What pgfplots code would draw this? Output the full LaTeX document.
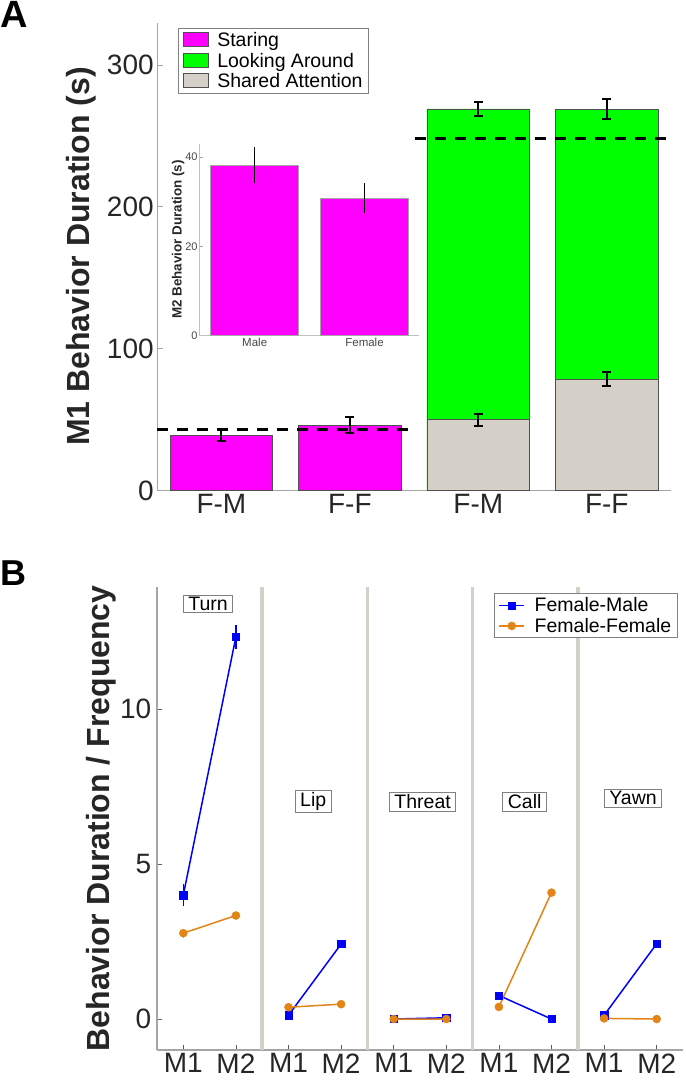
\documentclass[border=0pt]{standalone}
\usepackage{pgfplots}
\pgfplotsset{compat=1.18}
\usepackage{fontspec}
\setmainfont{Liberation Sans}
\definecolor{mag}{RGB}{255,0,255}
\definecolor{grn}{RGB}{0,255,0}
\definecolor{shg}{RGB}{212,208,200}
\definecolor{edge}{RGB}{80,80,80}
\definecolor{axgray}{RGB}{165,165,165}
\definecolor{txt}{RGB}{38,38,38}
\definecolor{bblue}{RGB}{0,0,250}
\definecolor{orng}{RGB}{226,132,22}
\newcommand{\fs}[1]{\fontsize{#1}{#1}\selectfont}
\begin{document}
\begin{tikzpicture}
\useasboundingbox (0pt,0pt) rectangle (685pt,-1081pt);
\node[anchor=north west, inner sep=0pt, font=\fs{38}\bfseries] at (0pt,-1pt) {A};
\node[anchor=north west, inner sep=0pt, font=\fs{36}\bfseries] at (0pt,-561pt) {B};

% ---------------- Panel A main axis ----------------
\begin{axis}[
  at={(157.2pt,-490.7pt)}, anchor=south west,
  scale only axis, width=513.8pt, height=468.2pt,
  xmin=0.5, xmax=4.5, ymin=0, ymax=330,
  axis x line=bottom, axis y line=left,
  axis line style={draw=axgray, line width=1.3pt, -},
  ybar, bar width=0.8, bar shift=0pt,
  legend image code/.code={\draw[#1] (0pt,-6.5pt) rectangle (25pt,7.5pt); \path[draw=none,fill=none] (0pt,0pt) -- (32pt,0pt);},
  ytick={0,100,200,300}, xtick={1,2,3,4},
  xticklabels={F-M,F-F,F-M,F-F},
  tick align=inside, major tick length=6pt,
  ytick style={draw=axgray, line width=1pt},
  xtick style={draw=none},
  ticklabel style={font=\fs{28}, text=txt},
  /pgf/number format/assume math mode=true,
  ylabel={M1 Behavior Duration (s)},
  ylabel style={font=\fs{32}\bfseries, text=txt, at={(axis description cs:-0.1308,0.5)}, anchor=base},
  legend style={at={(0.0405,0.989)}, anchor=north west, draw=gray, line width=1pt,
    font=\fs{19.5}, text=black, inner xsep=4pt, inner ysep=2pt,
    nodes={inner sep=2.4pt}, cells={anchor=west}},
  error bars/error bar style={line width=2pt, black},
  error bars/error mark options={rotate=90, line width=2pt, mark size=4.5pt, black},
]
\addplot[fill=mag, draw=edge, line width=0.8pt, bar shift=0pt,
  error bars/.cd, y dir=both, y explicit]
  coordinates {(1,39.0) +- (0,4.3) (2,46.3) +- (0,5.5)};
\addlegendentry{Staring}
\addplot[fill=grn, draw=edge, line width=0.8pt, bar shift=0pt,
  error bars/.cd, y dir=both, y explicit]
  coordinates {(3,269.1) +- (0,5.0) (4,268.8) +- (0,7.0)};
\addlegendentry{Looking Around}
\addplot[fill=shg, draw=edge, line width=0.8pt, bar shift=0pt,
  error bars/.cd, y dir=both, y explicit]
  coordinates {(3,50.0) +- (0,4.4) (4,78.7) +- (0,5.1)};
\addlegendentry{Shared Attention}
\addplot[sharp plot, forget plot, black, line width=2.6pt, dash pattern=on 11pt off 9pt]
  coordinates {(0.5,43.1) (2.46,43.1)};
\addplot[sharp plot, forget plot, black, line width=2.6pt, dash pattern=on 11pt off 9pt]
  coordinates {(2.51,248.4) (4.5,248.4)};
\end{axis}

% ---------------- Panel A inset ----------------
\begin{axis}[
  at={(199.8pt,-335.6pt)}, anchor=south west,
  scale only axis, width=219.6pt, height=192pt,
  xmin=0.5, xmax=2.5, ymin=0, ymax=43,
  axis x line=bottom, axis y line=left,
  axis line style={draw=axgray!70, line width=0.8pt, -},
  ybar, bar width=0.8, bar shift=0pt,
  xtick={1,2}, xticklabels={Male,Female}, ytick={0,20,40},
  tick align=inside, major tick length=3pt,
  ytick style={draw=axgray, line width=0.6pt},
  xtick style={draw=none},
  ticklabel style={font=\fs{11}, text=txt!85},
  xticklabel style={font=\fs{11.5}, inner sep=2pt},
  yticklabel style={inner sep=2pt},
  /pgf/number format/assume math mode=true,
  ylabel={M2 Behavior Duration (s)},
  ylabel style={font=\fs{13.4}\bfseries, text=txt, at={(axis description cs:-0.0824,0.5)}, anchor=base},
]
\addplot[fill=mag, draw=axgray, line width=0.6pt, bar shift=0pt,
  error bars/.cd, y dir=both, y explicit,
  error bar style={line width=0.9pt, black}, error mark=none]
  coordinates {(1,38.2) +- (0,4.0) (2,30.8) +- (0,3.35)};
\end{axis}

% ---------------- Panel B ----------------
\begin{axis}[
  at={(157pt,-1050pt)}, anchor=south west,
  scale only axis, width=526pt, height=463.3pt,
  xmin=0.5, xmax=10.5, ymin=-1, ymax=13.95,
  axis x line=bottom, axis y line=left,
  axis line style={draw=axgray, line width=1.3pt, -},
  xtick={1,2,3,4,5,6,7,8,9,10},
  xticklabels={M1,M2,M1,M2,M1,M2,M1,M2,M1,M2},
  ytick={0,5,10},
  tick align=inside, major tick length=5pt,
  tick style={draw=txt!75, line width=0.8pt},
  extra x ticks={2.5,4.5,6.5,8.5}, extra x tick labels={},
  extra x tick style={grid=major, major tick length=0pt,
     major grid style={draw=shg, line width=3.5pt}},
  ticklabel style={font=\fs{28}, text=txt},
  yticklabel style={inner xsep=5.5pt},
  /pgf/number format/assume math mode=true,
  ylabel={Behavior Duration / Frequency},
  ylabel style={font=\fs{32}\bfseries, text=txt, at={(axis description cs:-0.0903,0.5)}, anchor=base},
  unbounded coords=jump,
  legend image code/.code={\draw[mark repeat=2, mark phase=2, #1] plot coordinates {(0pt,0pt) (12.5pt,0pt) (25pt,0pt)}; \path[draw=none,fill=none] (0pt,0pt) -- (33pt,0pt);},
  legend style={at={(0.6407,0.9858)}, anchor=north west, draw=gray, line width=1pt,
    font=\fs{19.5}, text=black, inner xsep=4pt, inner ysep=1.5pt,
    nodes={inner sep=2.4pt}, cells={anchor=west}},
]
\addplot[bblue, line width=1.5pt, mark=square*, mark size=3.7pt,
  mark options={fill=bblue, draw=bblue, line width=0.5pt},
  error bars/.cd, y dir=both, y explicit,
  error bar style={line width=1.5pt, bblue}, error mark=none]
  coordinates {
  (1,4.0) +- (0,0.35) (2,12.33) +- (0,0.4) (2.5,nan)
  (3,0.12) +- (0,0) (4,2.42) +- (0,0) (4.5,nan)
  (5,0.0) +- (0,0) (6,0.04) +- (0,0) (6.5,nan)
  (7,0.76) +- (0,0) (8,0.0) +- (0,0) (8.5,nan)
  (9,0.12) +- (0,0) (10,2.43) +- (0,0)};
\addlegendentry{Female-Male}
\addplot[orng, line width=1.5pt, mark=*, mark size=4pt,
  mark options={fill=orng, draw=orng, line width=0.5pt},
  error bars/.cd, y dir=both, y explicit,
  error bar style={line width=1.5pt, orng}, error mark=none]
  coordinates {
  (1,2.77) +- (0,0.15) (2,3.34) +- (0,0.1) (2.5,nan)
  (3,0.38) +- (0,0) (4,0.48) +- (0,0) (4.5,nan)
  (5,0.0) +- (0,0) (6,0.0) +- (0,0) (6.5,nan)
  (7,0.39) +- (0,0) (8,4.08) +- (0,0.1) (8.5,nan)
  (9,0.02) +- (0,0) (10,0.0) +- (0,0)};
\addlegendentry{Female-Female}
\tikzset{bx/.style={draw=gray, fill=white, line width=0.8pt, font=\fs{19.5}, text=black, inner xsep=5pt, inner ysep=2pt}}
\node[bx] at (axis cs:1.47,13.4) {Turn};
\node[bx] at (axis cs:3.47,7.01) {Lip};
\node[bx] at (axis cs:5.55,7.01) {Threat};
\node[bx] at (axis cs:7.49,7.01) {Call};
\node[bx] at (axis cs:9.55,7.12) {Yawn};
\end{axis}
\end{tikzpicture}
\end{document}
